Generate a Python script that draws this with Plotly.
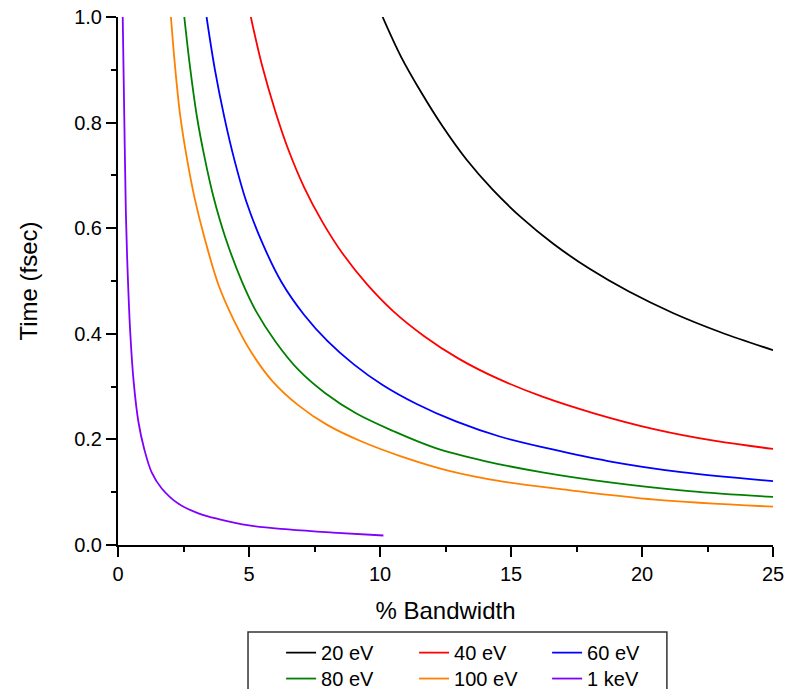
import plotly.graph_objects as go

# Values: % bandwidth (x) vs time in fsec (y)
bw_20ev = [10.1, 10.8, 11.6, 12.4, 13.3, 14.3, 15.4, 16.6, 18.0, 19.5, 21.2, 23.0, 25.0]
t_20ev = [1.0, 0.925, 0.855, 0.792, 0.730, 0.673, 0.620, 0.571, 0.523, 0.480, 0.439, 0.403, 0.369]

bw_40ev = [5.07, 5.5, 6.0, 6.5, 7.1, 7.8, 8.6, 9.5, 10.5, 11.7, 13.0, 14.5, 16.2, 18.2, 20.5, 22.8, 25.0]
t_40ev = [1.0, 0.908, 0.822, 0.749, 0.678, 0.612, 0.550, 0.494, 0.443, 0.395, 0.353, 0.315, 0.281, 0.249, 0.219, 0.197, 0.182]

bw_60ev = [3.38, 3.7, 4.06, 4.45, 4.9, 5.5, 6.25, 7.1, 8.0, 9.0, 10.1, 11.4, 12.9, 14.6, 16.5, 18.7, 21.5, 25.0]
t_60ev = [1.0, 0.90, 0.81, 0.728, 0.650, 0.573, 0.497, 0.436, 0.386, 0.342, 0.303, 0.267, 0.234, 0.205, 0.182, 0.159, 0.138, 0.121]

bw_80ev = [2.53, 2.75, 3.01, 3.3, 3.65, 4.1, 4.73, 5.3, 6.0, 6.9, 7.9, 9.1, 10.5, 12.1, 14.0, 16.2, 18.7, 21.8, 25.0]
t_80ev = [1.0, 0.905, 0.812, 0.735, 0.658, 0.582, 0.499, 0.440, 0.386, 0.331, 0.288, 0.249, 0.216, 0.184, 0.159, 0.1375, 0.119, 0.102, 0.091]

bw_100ev = [2.02, 2.18, 2.37, 2.62, 2.92, 3.3, 3.84, 4.4, 5.1, 5.9, 6.9, 8.0, 9.3, 10.8, 12.6, 14.7, 17.2, 20.5, 25.0]
t_100ev = [1.0, 0.905, 0.815, 0.735, 0.658, 0.582, 0.492, 0.428, 0.364, 0.310, 0.264, 0.227, 0.196, 0.168, 0.141, 0.120, 0.104, 0.086, 0.0725]

bw_1kev = [0.18, 0.24, 0.30, 0.37, 0.47, 0.60, 0.78, 1.0, 1.29, 1.67, 2.31, 3.07, 3.84, 5.0, 6.5, 8.2, 10.13]
t_1kev = [1.0, 0.81, 0.63, 0.515, 0.40, 0.308, 0.233, 0.182, 0.137, 0.107, 0.078, 0.060, 0.049, 0.037, 0.0295, 0.0235, 0.018]

series_names = ["20 eV", "40 eV", "60 eV", "80 eV", "100 eV", "1 keV"]
series_x = [bw_20ev, bw_40ev, bw_60ev, bw_80ev, bw_100ev, bw_1kev]
series_y = [t_20ev, t_40ev, t_60ev, t_80ev, t_100ev, t_1kev]
series_colors = ["#000000", "#ff0000", "#0000ff", "#008000", "#ff8000", "#8000ff"]
series_legend = ["legend", "legend", "legend", "legend2", "legend2", "legend2"]

FONT = "Arial, Liberation Sans, sans-serif"

fig = go.Figure()
for name, xs, ys, col, lg in zip(series_names, series_x, series_y, series_colors, series_legend):
    fig.add_trace(go.Scatter(
        x=xs, y=ys, name=name, mode="lines",
        line=dict(color=col, width=1.8, shape="spline", smoothing=1.0),
        legend=lg,
    ))

axis_common = dict(
    showline=True, linecolor="black", linewidth=2,
    ticks="outside", ticklen=10, tickwidth=2, tickcolor="black",
    showgrid=False, zeroline=False, mirror=False,
    tickfont=dict(family=FONT, size=20, color="black"),
)

fig.update_xaxes(
    range=[0, 25], tick0=0, dtick=5,
    minor=dict(dtick=2.5, ticks="outside", ticklen=5, tickwidth=2, tickcolor="black"),
    title=dict(text="% Bandwidth", font=dict(family=FONT, size=24, color="black"), standoff=18),
    **axis_common,
)
fig.update_yaxes(
    range=[0, 1.0], tick0=0, dtick=0.2, tickformat=".1f",
    minor=dict(dtick=0.1, ticks="outside", ticklen=5, tickwidth=2, tickcolor="black"),
    title=dict(text="Time (fsec)", font=dict(family=FONT, size=24, color="black"), standoff=30),
    **axis_common,
)

legend_common = dict(
    orientation="h", xanchor="left", yanchor="top",
    entrywidth=88, entrywidthmode="pixels",
    bgcolor="rgba(0,0,0,0)", borderwidth=0,
    font=dict(family=FONT, size=20, color="black"),
    traceorder="normal",
)

fig.update_layout(
    width=785, height=689,
    margin=dict(l=118, r=12, t=17, b=144, autoexpand=False),
    paper_bgcolor="white", plot_bgcolor="white",
    font=dict(family=FONT, color="black"),
    legend=dict(x=0.249, y=-0.167, **legend_common),
    legend2=dict(x=0.249, y=-0.216, **legend_common),
    shapes=[dict(
        type="rect", xref="paper", yref="paper",
        x0=0.1985, x1=0.838, y0=-0.1648, y1=-0.34,
        line=dict(color="#333333", width=1.5), fillcolor="rgba(0,0,0,0)",
        layer="above",
    )],
)

fig.write_html("out.html")
